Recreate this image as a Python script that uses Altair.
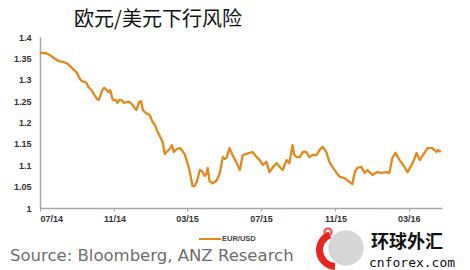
import altair as alt
import pandas as pd

dates = ["2014-07-01","2014-07-11","2014-07-17","2014-07-24","2014-07-29","2014-08-03","2014-08-08","2014-08-13","2014-08-16","2014-08-21",
"2014-08-26","2014-08-31","2014-09-05","2014-09-08","2014-09-13","2014-09-16","2014-09-19","2014-09-24","2014-09-29","2014-10-03",
"2014-10-06","2014-10-09","2014-10-12","2014-10-15","2014-10-19","2014-10-22","2014-10-25","2014-10-29","2014-11-03","2014-11-06",
"2014-11-09","2014-11-12","2014-11-17","2014-11-21","2014-11-26","2014-12-01","2014-12-04","2014-12-07","2014-12-12","2014-12-15",
"2014-12-18","2014-12-23","2014-12-29","2015-01-03","2015-01-07","2015-01-10","2015-01-15","2015-01-18","2015-01-20","2015-01-23",
"2015-01-26","2015-01-31","2015-02-04","2015-02-07","2015-02-12","2015-02-17","2015-02-20","2015-02-25","2015-02-28","2015-03-04",
"2015-03-07","2015-03-10","2015-03-13","2015-03-17","2015-03-22","2015-03-27","2015-03-30","2015-04-02","2015-04-04","2015-04-07",
"2015-04-12","2015-04-19","2015-04-24","2015-04-29","2015-05-02","2015-05-05","2015-05-10","2015-05-15","2015-05-22","2015-05-27",
"2015-06-01","2015-06-06","2015-06-12","2015-06-17","2015-06-24","2015-06-29","2015-07-04","2015-07-10","2015-07-15","2015-07-20",
"2015-07-27","2015-08-01","2015-08-06","2015-08-12","2015-08-17","2015-08-22","2015-08-25","2015-08-29","2015-09-03","2015-09-08",
"2015-09-14","2015-09-19","2015-09-24","2015-10-01","2015-10-06","2015-10-11","2015-10-17","2015-10-22","2015-10-27","2015-11-03",
"2015-11-08","2015-11-16","2015-11-24","2015-11-29","2015-12-03","2015-12-07","2015-12-14","2015-12-19","2015-12-24","2016-01-01",
"2016-01-09","2016-01-15","2016-01-24","2016-01-29","2016-02-03","2016-02-08","2016-02-15","2016-02-23","2016-02-28","2016-03-06",
"2016-03-11","2016-03-14","2016-03-19","2016-03-27","2016-04-01","2016-04-09","2016-04-16","2016-04-18","2016-04-23"]

eurusd = [1.363,1.362,1.358,1.351,1.346,1.343,1.342,1.339,1.337,1.330,
1.323,1.316,1.302,1.297,1.295,1.292,1.283,1.276,1.264,1.255,
1.253,1.264,1.276,1.281,1.276,1.271,1.276,1.253,1.253,1.246,
1.253,1.253,1.246,1.248,1.248,1.241,1.234,1.229,1.248,1.250,
1.229,1.222,1.218,1.201,1.194,1.182,1.168,1.159,1.152,1.126,
1.131,1.138,1.147,1.131,1.138,1.140,1.136,1.126,1.112,1.094,
1.073,1.051,1.051,1.061,1.089,1.084,1.075,1.080,1.094,1.063,
1.058,1.065,1.082,1.119,1.115,1.117,1.140,1.124,1.105,1.089,
1.124,1.126,1.129,1.131,1.119,1.112,1.101,1.108,1.084,1.094,
1.105,1.096,1.089,1.112,1.105,1.147,1.124,1.119,1.119,1.131,
1.131,1.119,1.124,1.124,1.136,1.143,1.131,1.108,1.096,1.082,
1.073,1.070,1.061,1.056,1.084,1.094,1.096,1.082,1.089,1.077,
1.084,1.082,1.084,1.082,1.117,1.129,1.112,1.096,1.084,1.101,
1.117,1.129,1.112,1.129,1.140,1.140,1.131,1.136,1.131]

y_ticks = [1.0, 1.05, 1.1, 1.15, 1.2, 1.25, 1.3, 1.35, 1.4]
x_ticks = ["2014-07-01", "2014-11-01", "2015-03-01", "2015-07-01", "2015-11-01", "2016-03-01"]
x_domain = ["2014-07-01", "2016-04-25"]

title_text = "欧元/美元下行风险"
source_text = "Source: Bloomberg, ANZ Research"
legend_label = "EUR/USD"
logo_cn = "环球外汇"
logo_en = "cnforex.com"

ORANGE = "#E2881C"

def dt(s):
    y, m, d = map(int, s.split("-"))
    return alt.DateTime(year=y, month=m, date=d, utc=True)

df = pd.DataFrame({"date": dates, "value": eurusd})
one = pd.DataFrame({"k": [0]})

line = alt.Chart(df).mark_line(color=ORANGE, strokeWidth=2.3, strokeJoin="round").encode(
    x=alt.X("date:T",
            scale=alt.Scale(type="utc", domain=[dt(d) for d in x_domain]),
            axis=alt.Axis(values=[dt(d) for d in x_ticks],
                          labelExpr="utcFormat(datum.value, '%m/%y')",
                          title=None, grid=False, domainColor="#a8a8a8", domainWidth=1.5,
                          tickColor="#a8a8a8", tickSize=3, labelPadding=3,
                          labelFont="Liberation Sans", labelFontSize=9, labelFontWeight="bold",
                          labelColor="#333333")),
    y=alt.Y("value:Q",
            scale=alt.Scale(domain=[1.0, 1.4], nice=False, zero=False),
            axis=alt.Axis(values=y_ticks, format="~g", title=None, grid=False,
                          domainColor="#a8a8a8", domainWidth=1.5, ticks=False, labelPadding=9,
                          labelFont="Liberation Sans", labelFontSize=9, labelFontWeight="bold",
                          labelColor="#333333")),
)

title = alt.Chart(one).mark_text(text=title_text, font="Noto Sans CJK SC", fontSize=20,
                                 color="#111111", align="center", baseline="middle").encode(
    x=alt.value(118), y=alt.value(-17))

legend_line = alt.Chart(one).mark_rule(color=ORANGE, strokeWidth=2).encode(
    x=alt.value(159), x2=alt.value(181), y=alt.value(202))
legend_text = alt.Chart(one).mark_text(text=legend_label, font="Liberation Sans", fontSize=7.5,
                                       fontWeight="bold", color="#444444", align="left",
                                       baseline="middle").encode(x=alt.value(182), y=alt.value(202))

source = alt.Chart(one).mark_text(text=source_text, font="DejaVu Sans", fontSize=16.5,
                                  color="#6e6e6e", align="left", baseline="alphabetic").encode(
    x=alt.value(-30), y=alt.value(224))

logo_ball = alt.Chart(one).mark_point(filled=True, color="#d6d6d6", opacity=1, size=1250, shape="circle").encode(
    x=alt.value(306), y=alt.value(211))
logo_arc = alt.Chart(one).mark_arc(color="#e8251f", innerRadius=13, outerRadius=20,
                                   theta=3.2, theta2=5.9).encode(x=alt.value(296), y=alt.value(213))
logo_dot = alt.Chart(one).mark_point(filled=False, color="#e8251f", strokeWidth=2.5, size=50, shape="circle").encode(
    x=alt.value(288), y=alt.value(195))
logo_cn_t = alt.Chart(one).mark_text(text=logo_cn, font="Noto Sans CJK SC", fontSize=18, fontWeight="bold",
                                     color="#111111", align="left", baseline="middle").encode(
    x=alt.value(331), y=alt.value(206))
logo_en_t = alt.Chart(one).mark_text(text=logo_en, font="DejaVu Sans Mono", fontSize=13,
                                     color="#111111", align="left", baseline="middle").encode(
    x=alt.value(329), y=alt.value(226))

chart = alt.layer(line, title, legend_line, legend_text, source, logo_ball, logo_arc, logo_dot,
                  logo_cn_t, logo_en_t).properties(
    width=402, height=171,
    padding={"left": 40, "top": 37, "right": 28, "bottom": 62},
    autosize="none",
    background="white",
).configure_view(strokeWidth=0)

chart.save("out.html", embed_options={"renderer": "svg", "actions": False})
